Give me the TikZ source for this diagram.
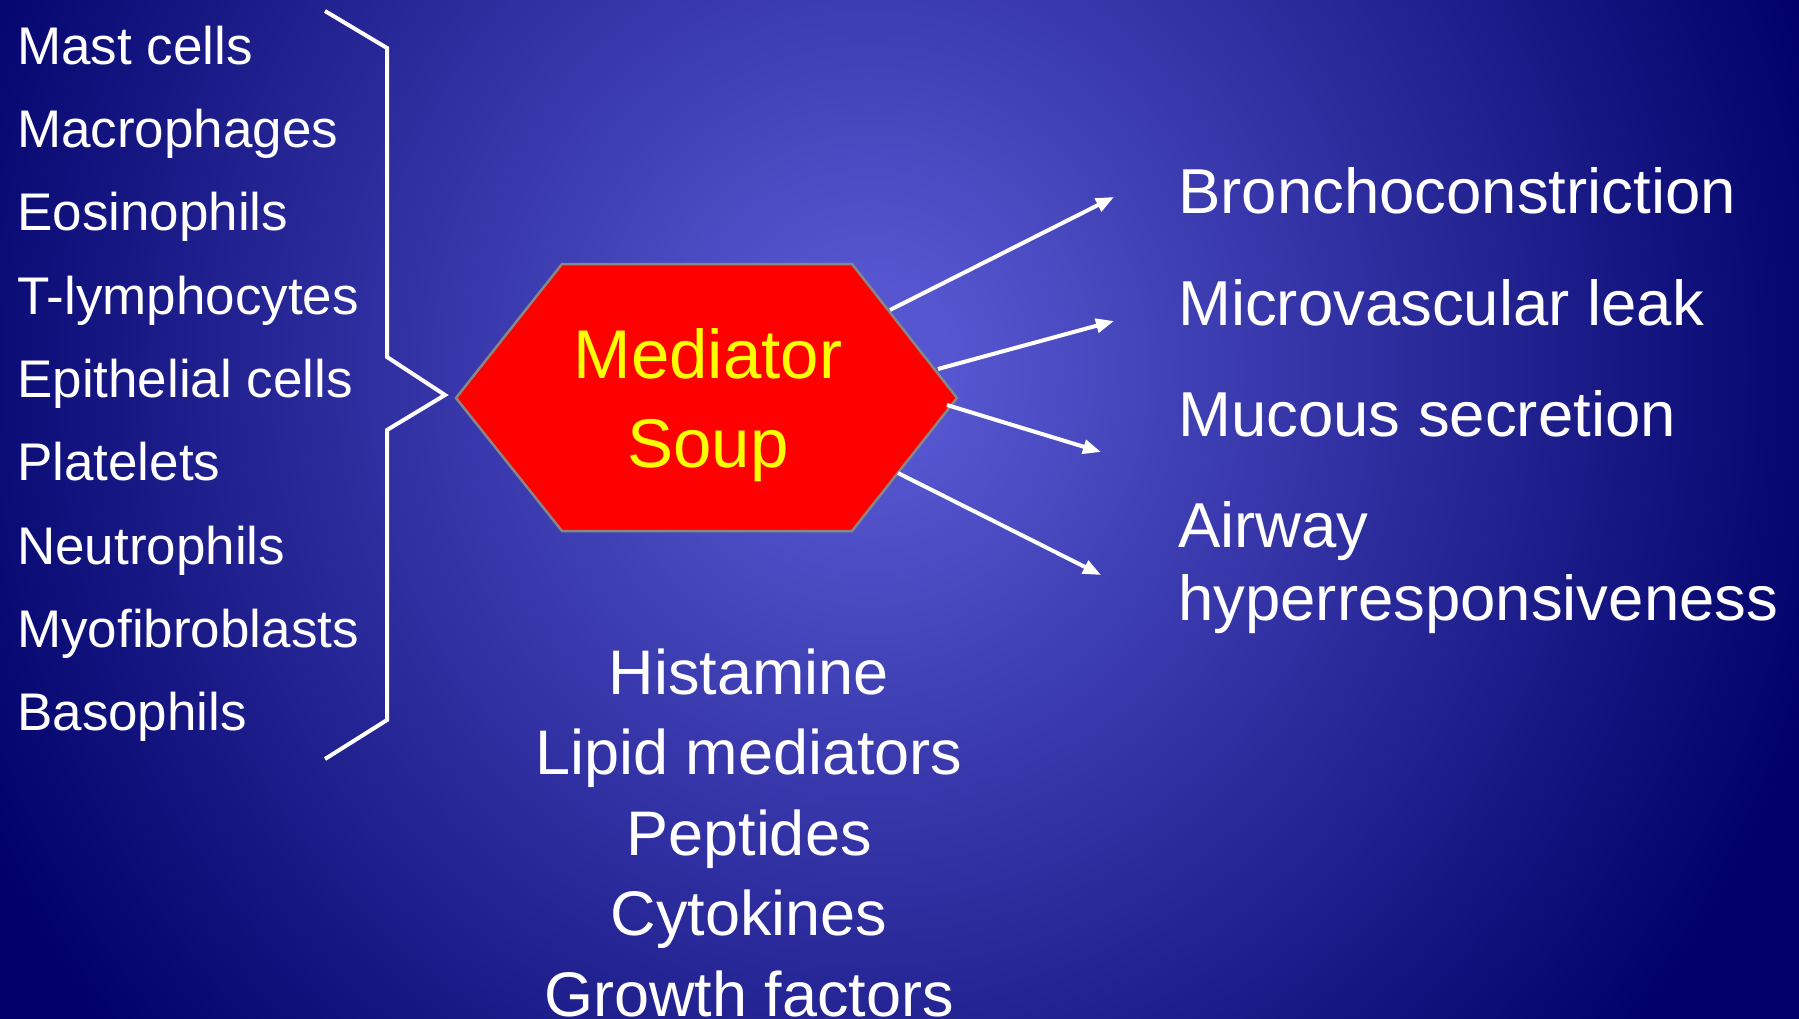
\documentclass[tikz,border=0pt]{standalone}
\usepackage{fontspec}
\setmainfont{Liberation Sans}
\usetikzlibrary{arrows.meta}
\definecolor{bgc}{RGB}{86,86,208}
\definecolor{bge}{RGB}{0,0,104}
\definecolor{hexred}{RGB}{255,0,0}
\definecolor{hexgray}{RGB}{135,135,135}
\definecolor{soupyellow}{RGB}{255,255,0}
\pgfdeclareradialshading{bgshade}{\pgfpoint{0bp}{0bp}}{color(0bp)=(bgc); color(2bp)=(bgc); color(25bp)=(bge); color(50bp)=(bge)}
\begin{document}
\begin{tikzpicture}[x=1pt,y=-1pt,
  celltext/.style={anchor=base west, inner sep=0pt, text=white, font=\fontsize{53}{60}\selectfont},
  efftext/.style={anchor=base west, inner sep=0pt, text=white, align=left, font=\fontsize{63.5}{73}\selectfont},
  medtext/.style={anchor=base, inner sep=0pt, text=white, align=center, font=\fontsize{63}{80.5}\selectfont},
  souptext/.style={anchor=base, inner sep=0pt, text=soupyellow, align=center, font=\fontsize{69}{89}\selectfont},
  bracepath/.style={draw=white, line width=4pt, line join=miter},
  arr/.style={draw=white, line width=4pt, -{Triangle[length=18pt,width=14pt]}},
  hexa/.style={fill=hexred, draw=hexgray, line width=2.5pt, line join=miter}]
\useasboundingbox (0,0) rectangle (1799,1019);
\clip (0,0) rectangle (1799,1019);
% background
\fill[bge] (0,0) rectangle (1799,1019);
\shade[shading=bgshade] (870,370) ellipse [x radius=1000pt, y radius=1050pt];
% cell list
\foreach \txt/\yy [count=\i] in {Mast cells/65, Macrophages/148, Eosinophils/231, T-lymphocytes/314, Epithelial cells/397, Platelets/480, Neutrophils/564, Myofibroblasts/647, Basophils/730}
  \node[celltext] (cell\i) at (17,\yy) {\txt};
% brace
\coordinate (b1) at (325,11);
\coordinate (b2) at (387,48);
\coordinate (b3) at (387,357);
\coordinate (btip) at (445,395);
\coordinate (b5) at (387,430);
\coordinate (b6) at (387,720);
\coordinate (b7) at (325,759);
\draw[bracepath] (b1) -- (b2) -- (b3) -- (btip) -- (b5) -- (b6) -- (b7);
% hexagon
\coordinate (h1) at (562,264);
\coordinate (h2) at (852,264);
\coordinate (h3) at (957,398);
\coordinate (h4) at (852,531);
\coordinate (h5) at (562,531);
\coordinate (h6) at (456,398);
\draw[hexa] (h1) -- (h2) -- (h3) -- (h4) -- (h5) -- (h6) -- cycle;
\node[souptext] (soup) at (708,467) {Mediator\\Soup};
% effects
\node[efftext] (e1) at (1178,214) {Bronchoconstriction};
\node[efftext] (e2) at (1178,325) {Microvascular leak};
\node[efftext] (e3) at (1178,436) {Mucous secretion};
\node[efftext] (e4) at (1178,620) {Airway\\hyperresponsiveness};
% arrows
\coordinate (s1) at (890,310);
\coordinate (t1) at (1114,197);
\coordinate (s2) at (938,369);
\coordinate (t2) at (1114,321);
\coordinate (s3) at (947,405);
\coordinate (t3) at (1101,452);
\coordinate (s4) at (898,473);
\coordinate (t4) at (1101,575);
\draw[arr] (s1) -- (t1);
\draw[arr] (s2) -- (t2);
\draw[arr] (s3) -- (t3);
\draw[arr] (s4) -- (t4);
% mediators
\node[medtext] (med) at (749,1016) {Histamine\\Lipid mediators\\Peptides\\Cytokines\\Growth factors};
\end{tikzpicture}
\end{document}
